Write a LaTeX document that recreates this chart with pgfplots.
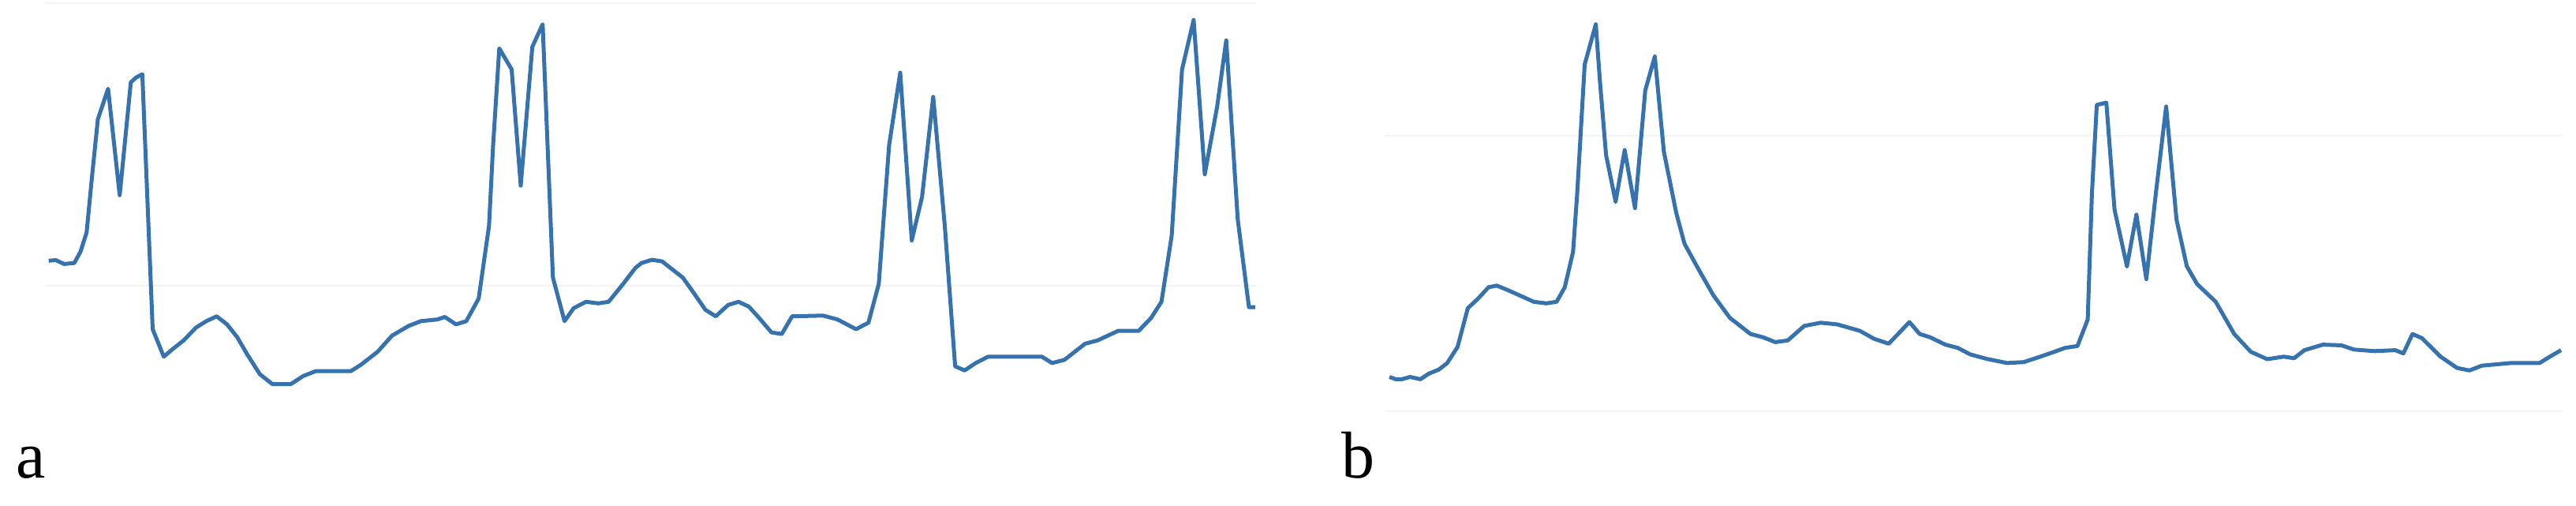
\documentclass[border=0pt]{standalone}
\usepackage{pgfplots}
\pgfplotsset{compat=1.18}
\usepackage{fontspec}
\setmainfont{Liberation Serif}
\definecolor{ecg}{HTML}{3572AE}
\definecolor{gridc}{HTML}{F3F3F3}
\begin{document}
\begin{tikzpicture}
\useasboundingbox (0,0) rectangle (816.25bp,160.25bp);
\pgfplotsset{panel/.style={
  scale only axis, height=160.25bp, ymin=0, ymax=641,
  anchor=south west, axis line style={draw=none},
  xtick=\empty, yticklabels={}, ytick style={draw=none},
  ymajorgrids, grid style={gridc, line width=0.6bp},
  clip=false}}
\begin{axis}[panel, at={(14.25bp,0bp)}, width=383.75bp, xmin=57, xmax=1592, ytick={279,637}]
\addplot[ecg, line width=1.25bp, line join=round] table {
61.7 310.7
70.6 311.5
81.1 306.6
94.1 307.8
102.0 322.1
109.8 346.6
116.1 412.1
124.0 489.7
137.0 528.6
151.7 393.7
165.8 536.7
172.6 542.9
180.4 547.0
193.5 224.0
207.6 189.2
219.7 199.5
232.7 209.7
248.4 226.0
261.5 234.2
274.6 240.3
287.7 230.1
300.7 213.8
313.8 191.3
329.5 166.8
345.2 154.5
368.7 154.5
384.4 164.7
400.1 170.8
444.6 170.8
457.6 179.0
478.6 195.4
496.9 215.8
517.8 228.1
533.5 234.2
554.4 236.3
563.8 239.5
577.9 230.1
591.0 234.2
606.7 262.8
619.8 354.8
625.0 457.0
632.8 579.7
648.5 553.1
660.0 405.9
674.7 581.7
687.8 610.3
700.8 289.4
715.5 234.2
727.0 250.6
742.7 258.7
758.4 256.7
771.4 258.7
789.7 281.2
805.4 301.7
813.1 307.8
826.2 311.9
839.2 309.9
852.3 299.6
865.4 289.4
878.5 271.0
894.1 248.5
907.2 240.3
922.9 254.7
936.0 258.7
949.1 252.6
962.1 238.3
977.8 219.9
990.9 217.9
1004.0 240.3
1043.2 241.2
1061.5 236.3
1085.0 224.0
1100.7 232.2
1113.8 281.2
1126.9 457.0
1141.0 549.0
1155.6 336.4
1168.7 391.6
1182.8 518.3
1197.5 354.8
1210.6 177.0
1222.6 171.7
1236.7 181.1
1252.4 189.2
1320.4 189.2
1333.5 181.1
1349.2 185.2
1375.3 205.6
1391.0 209.7
1417.2 221.9
1443.3 221.9
1459.0 238.3
1472.1 258.7
1485.1 342.6
1498.2 553.1
1512.9 615.7
1527.0 420.2
1542.7 506.1
1554.2 589.9
1568.8 363.0
1583.0 251.8
1590.8 251.8
};
\end{axis}
\begin{axis}[panel, at={(439bp,0bp)}, width=373bp, xmin=1756, xmax=3248, ytick={120,469}]
\addplot[ecg, line width=1.25bp, line join=round] table {
1761.1 163.5
1768.9 160.6
1776.8 160.6
1787.2 163.5
1800.3 160.6
1810.8 167.6
1823.8 172.9
1834.3 181.1
1847.4 201.5
1860.4 250.6
1873.5 262.8
1886.6 277.1
1897.1 279.2
1910.1 273.9
1925.8 266.9
1944.1 258.7
1959.8 256.7
1972.9 258.7
1983.3 277.1
1993.8 322.1
1999.0 395.7
2008.5 559.2
2022.6 610.3
2027.8 538.8
2035.6 444.8
2047.7 385.5
2059.2 450.9
2072.3 377.3
2085.3 526.5
2097.4 569.5
2108.9 448.8
2124.6 371.2
2135.0 332.3
2150.7 303.7
2171.6 266.9
2192.6 238.3
2218.7 217.9
2234.4 213.8
2250.1 207.6
2265.8 209.7
2286.8 228.1
2307.6 232.2
2328.5 230.1
2357.3 221.9
2375.6 211.7
2393.9 205.6
2420.1 233.0
2433.1 217.9
2446.2 213.8
2465.7 204.4
2481.4 200.3
2497.1 192.1
2518.0 186.4
2544.1 181.1
2565.1 182.3
2586.0 189.2
2601.7 194.6
2617.4 200.3
2633.1 202.7
2646.1 236.3
2651.4 395.7
2657.6 508.1
2669.7 511.0
2680.1 375.3
2695.8 303.7
2707.8 369.1
2720.4 287.4
2732.4 395.7
2745.5 506.1
2758.6 363.0
2771.7 303.7
2784.7 281.2
2808.3 258.7
2831.8 217.9
2852.7 195.4
2873.6 186.0
2894.6 189.2
2907.6 187.2
2920.7 197.4
2944.2 204.4
2967.8 203.5
2983.5 198.2
3009.6 196.2
3035.8 197.4
3046.2 193.3
3057.7 217.9
3069.8 212.6
3093.3 189.2
3114.2 174.9
3129.9 171.7
3145.6 177.8
3182.2 181.1
3218.8 181.1
3231.9 189.2
3246.0 197.4
};
\end{axis}
\node[anchor=base west, inner sep=0pt, font=\fontsize{21bp}{25bp}\selectfont] at (5bp,9bp) {a};
\node[anchor=base west, inner sep=0pt, font=\fontsize{21bp}{25bp}\selectfont] at (425bp,9bp) {b};
\end{tikzpicture}
\end{document}
